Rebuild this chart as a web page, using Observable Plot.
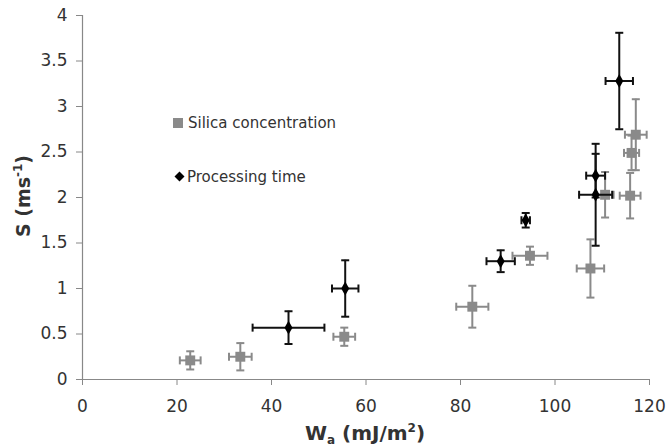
<!DOCTYPE html>
<html><head><meta charset="utf-8">
<script src="https://cdn.jsdelivr.net/npm/d3@7"></script>
<script src="https://cdn.jsdelivr.net/npm/@observablehq/plot@0.6"></script>
<style>body{margin:0;background:#fff}</style>
</head><body><div id="chart"></div>
<script>
const silicaX    = [22.8, 33.4, 55.4, 82.5, 94.7, 107.5, 110.6, 115.9, 116.2, 117.1];
const silicaY    = [0.21, 0.25, 0.47, 0.80, 1.36, 1.22, 2.03, 2.02, 2.49, 2.69];
const silicaXErr = [2.2, 2.4, 2.3, 3.4, 3.7, 2.9, 1.8, 2.2, 1.6, 2.3];
const silicaYErr = [0.10, 0.15, 0.10, 0.23, 0.10, 0.32, 0.25, 0.25, 0.19, 0.39];

const processX    = [43.6, 55.6, 88.5, 93.8, 108.6, 108.6, 113.6];
const processY    = [0.57, 1.00, 1.30, 1.75, 2.03, 2.24, 3.28];
const processXErr = [7.6, 2.8, 3.0, 0.9, 3.5, 2.0, 2.9];
const processYErr = [0.18, 0.31, 0.12, 0.08, 0.56, 0.24, 0.53];

const xTicks = [0, 20, 40, 60, 80, 100, 120];
const yTicks = [0, 0.5, 1, 1.5, 2, 2.5, 3, 3.5, 4];
const seriesNames = ["Silica concentration", "Processing time"];

const mk = (xs, ys, xe, ye) => xs.map((x, i) => ({x, y: ys[i], xlo: x - xe[i], xhi: x + xe[i], ylo: ys[i] - ye[i], yhi: ys[i] + ye[i]}));
const silica = mk(silicaX, silicaY, silicaXErr, silicaYErr);
const processing = mk(processX, processY, processXErr, processYErr);

const vCap = {draw(c, s){const r = Math.sqrt(s/Math.PI); c.moveTo(0,-r); c.lineTo(0,r);}};
const hCap = {draw(c, s){const r = Math.sqrt(s/Math.PI); c.moveTo(-r,0); c.lineTo(r,0);}};

function errMarks(data, color, sw) {
  return [
    Plot.ruleY(data, {y: "y", x1: "xlo", x2: "xhi", stroke: color, strokeWidth: sw}),
    Plot.ruleX(data, {x: "x", y1: "ylo", y2: "yhi", stroke: color, strokeWidth: sw}),
    Plot.dot(data, {x: "xlo", y: "y", symbol: vCap, r: 4, stroke: color, strokeWidth: sw, fill: "none"}),
    Plot.dot(data, {x: "xhi", y: "y", symbol: vCap, r: 4, stroke: color, strokeWidth: sw, fill: "none"}),
    Plot.dot(data, {x: "x", y: "ylo", symbol: hCap, r: 4, stroke: color, strokeWidth: sw, fill: "none"}),
    Plot.dot(data, {x: "x", y: "yhi", symbol: hCap, r: 4, stroke: color, strokeWidth: sw, fill: "none"})
  ];
}

const gray = "#8a8a8a";
const plot = Plot.plot({
  width: 670, height: 446,
  marginLeft: 82, marginRight: 21, marginTop: 15, marginBottom: 67,
  x: {domain: [0, 120]},
  y: {domain: [0, 4]},
  style: {fontFamily: "DejaVu Sans", fontSize: "17px", color: "#333", background: "#fff"},
  marks: [
    Plot.axisX({ticks: xTicks, tickSize: 6, tickPadding: 14, label: null, stroke: "#888", fill: "#333", fontSize: 17}),
    Plot.axisY({ticks: yTicks, tickSize: 6, tickPadding: 9, label: null, tickFormat: d => String(d), stroke: "#888", fill: "#333", fontSize: 17}),
    Plot.ruleY([0], {stroke: "#888", strokeWidth: 1.2}),
    Plot.ruleX([0], {stroke: "#888", strokeWidth: 1.2}),
    ...errMarks(silica, gray, 2),
    Plot.dot(silica, {x: "x", y: "y", symbol: "square", r: 5.6, fill: gray}),
    ...errMarks(processing, "#111", 2),
    Plot.dot(processing, {x: "x", y: "y", symbol: "diamond", r: 4.2, fill: "#000"})
  ]
});
document.getElementById("chart").appendChild(plot);

const svg = d3.select(plot);
// Legend
svg.append("rect").attr("x", 173).attr("y", 118).attr("width", 10).attr("height", 10).attr("fill", gray);
svg.append("text").attr("x", 188).attr("y", 123).attr("dy", "0.35em").attr("text-anchor", "start").attr("font-size", 15).attr("fill", "#333").text(seriesNames[0]);
svg.append("path").attr("d", "M179.5,171.5L184.5,176.5L179.5,181.5L174.5,176.5Z").attr("fill", "#000");
svg.append("text").attr("x", 187).attr("y", 176.5).attr("dy", "0.35em").attr("text-anchor", "start").attr("font-size", 15).attr("fill", "#333").text(seriesNames[1]);

// Axis titles
const xt = svg.append("text").attr("x", 365).attr("y", 440).attr("text-anchor", "middle")
  .attr("font-weight", "bold").attr("font-size", 20).attr("fill", "#333");
xt.append("tspan").text("W");
xt.append("tspan").attr("font-size", 12).attr("dy", 4).text("a");
xt.append("tspan").attr("dy", -4).text(" (mJ/m");
xt.append("tspan").attr("font-size", 12).attr("dy", -8).text("2");
xt.append("tspan").attr("dy", 8).text(")");

const yt = svg.append("text").attr("transform", "translate(30,196) rotate(-90)").attr("text-anchor", "middle")
  .attr("font-weight", "bold").attr("font-size", 19).attr("fill", "#333");
yt.append("tspan").text("S (ms");
yt.append("tspan").attr("font-size", 12).attr("dy", -8).text("-1");
yt.append("tspan").attr("dy", 8).text(")");
</script>
</body></html>
